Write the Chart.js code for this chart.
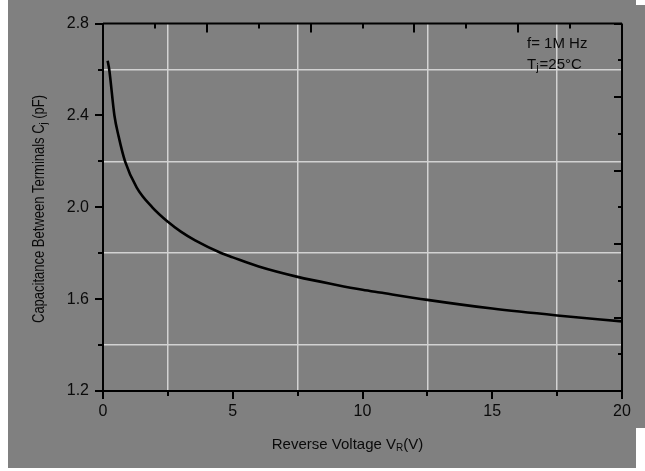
<!DOCTYPE html>
<html>
<head>
<meta charset="utf-8">
<script src="https://cdn.jsdelivr.net/npm/chart.js@4/dist/chart.umd.min.js"></script>
<style>
  html, body { margin: 0; padding: 0; background: #ffffff; }
  #wrap { width: 645px; height: 471px; }
</style>
</head>
<body>
<div id="wrap"><canvas id="capChart" width="645" height="471"></canvas></div>
<script>
// Reverse voltage (V) and capacitance (pF)
const reverseVoltage = [0.18, 0.24, 0.44, 0.6, 0.85, 1.3, 1.9, 2.5, 3.0, 3.55, 4.57, 5, 6, 7.5, 9, 10, 10.67, 12.5, 15, 17.5, 20];
const capacitance = [2.638, 2.60, 2.40, 2.31, 2.20, 2.086, 2.00, 1.937, 1.894, 1.856, 1.80, 1.782, 1.742, 1.697, 1.662, 1.641, 1.629, 1.597, 1.559, 1.529, 1.503];

// Axis ticks
const xTicks = [0, 5, 10, 15, 20];
const yTicks = [1.2, 1.6, 2.0, 2.4, 2.8];

const FONT = '"Liberation Sans", Arial, sans-serif';
const TEXT = '#0a0a0a';

// gray panel behind the chart (matches the scanned look)
const panelBg = {
    id: 'panelBg',
    beforeDraw(chart) {
        const c = chart.ctx;
        c.save();
        c.fillStyle = '#808080';
        c.fillRect(8, 0, 637, 468);
        c.fillStyle = '#ffffff';
        c.fillRect(636, 0, 9, 5);
        c.fillRect(636, 428, 9, 43);
        c.restore();
    }
};

// frame, tick marks on all four sides, axis titles and the note
const frameTicks = {
    id: 'frameTicks',
    afterDraw(chart) {
        const c = chart.ctx;
        const a = chart.chartArea;
        const x = chart.scales.x;
        const y = chart.scales.y;
        c.save();
        c.strokeStyle = '#000';
        c.lineWidth = 2;
        c.beginPath();
        c.moveTo(a.left, a.top); c.lineTo(a.right, a.top);
        c.moveTo(a.right, a.top); c.lineTo(a.right, a.bottom);
        // bottom ticks (outside)
        for (let v = 0; v <= 20.001; v += 2.5) {
            const px = Math.round(x.getPixelForValue(v));
            const len = (Math.round(v * 10) % 50 === 0) ? 8 : 5;
            c.moveTo(px, a.bottom); c.lineTo(px, a.bottom + len);
        }
        // top ticks (inside)
        for (let v = 0; v <= 20.001; v += 2) {
            const px = Math.round(x.getPixelForValue(v));
            const len = (v % 4 === 0) ? 9 : 5;
            c.moveTo(px, a.top); c.lineTo(px, a.top + len);
        }
        // left ticks (outside)
        for (let i = 0; i <= 8; i++) {
            const py = Math.round(y.getPixelForValue(1.2 + i * 0.2));
            const len = (i % 2 === 0) ? 8 : 5;
            c.moveTo(a.left, py); c.lineTo(a.left - len, py);
        }
        // right ticks (inside, finer division)
        for (let i = 0; i <= 10; i++) {
            const py = Math.round(y.getPixelForValue(1.2 + i * 0.16));
            const len = (i % 2 === 0) ? 8 : 4;
            c.moveTo(a.right, py); c.lineTo(a.right - len, py);
        }
        c.stroke();

        c.fillStyle = TEXT;
        c.textBaseline = 'alphabetic';

        // x title with subscript R
        const xt1 = 'Reverse Voltage V', xt2 = 'R', xt3 = '(V)';
        c.font = '15px ' + FONT;
        const w1 = c.measureText(xt1).width, w3 = c.measureText(xt3).width;
        c.font = '10px ' + FONT;
        const w2 = c.measureText(xt2).width;
        let tx = (a.left + a.right) / 2 - (w1 + w2 + w3) / 2 - 15;
        const ty = 449;
        c.font = '15px ' + FONT;
        c.fillText(xt1, tx, ty); tx += w1;
        c.font = '10px ' + FONT;
        c.fillText(xt2, tx, ty + 2); tx += w2;
        c.font = '15px ' + FONT;
        c.fillText(xt3, tx, ty);

        // y title, rotated and squeezed like the original
        const yt1 = 'Capacitance Between Terminals C', yt2 = 'j', yt3 = ' (pF)';
        c.font = '16px ' + FONT;
        const v1 = c.measureText(yt1).width, v3 = c.measureText(yt3).width;
        c.font = '11px ' + FONT;
        const v2 = c.measureText(yt2).width;
        const total = v1 + v2 + v3;
        const sx = 228 / total;
        c.translate(44, 209);
        c.rotate(-Math.PI / 2);
        c.scale(sx, 1);
        let yx = -total / 2;
        c.font = '16px ' + FONT;
        c.fillText(yt1, yx, 0); yx += v1;
        c.font = '11px ' + FONT;
        c.fillText(yt2, yx, 3); yx += v2;
        c.font = '16px ' + FONT;
        c.fillText(yt3, yx, 0);
        c.setTransform(1, 0, 0, 1, 0, 0);

        // test conditions note
        c.font = '15px ' + FONT;
        c.fillText('f= 1M Hz', 527, 48);
        c.fillText('T', 527, 69);
        const tw = c.measureText('T').width;
        c.font = '11px ' + FONT;
        c.fillText('j', 527 + tw, 71);
        const jw = c.measureText('j').width;
        c.font = '15px ' + FONT;
        c.fillText('=25°C', 527 + tw + jw + 1, 69);
        c.restore();
    }
};

const ctx = document.getElementById('capChart').getContext('2d');
const capChart = new Chart(ctx, {
    type: 'line',
    data: {
        datasets: [{
            data: reverseVoltage.map((v, i) => ({ x: v, y: capacitance[i] })),
            borderColor: '#000000',
            borderWidth: 2.6,
            pointRadius: 0,
            fill: false,
            cubicInterpolationMode: 'monotone'
        }]
    },
    options: {
        responsive: false,
        animation: false,
        devicePixelRatio: 1,
        layout: { padding: { left: 8, top: 16, right: 23, bottom: 0 } },
        plugins: { legend: { display: false }, tooltip: { enabled: false } },
        scales: {
            x: {
                type: 'linear',
                min: 0,
                max: 20,
                afterFit(scale) { scale.height = 80; },
                ticks: {
                    stepSize: 2.5,
                    autoSkip: false,
                    maxRotation: 0,
                    padding: 11,
                    color: TEXT,
                    font: { family: FONT, size: 16 },
                    callback: v => xTicks.includes(v) ? String(v) : ''
                },
                grid: {
                    drawTicks: false,
                    lineWidth: 1.5,
                    color: c => xTicks.includes(c.tick.value) ? 'rgba(0,0,0,0)' : '#d2d2d2'
                },
                border: { color: '#000', width: 2 }
            },
            y: {
                min: 1.2,
                max: 2.8,
                afterFit(scale) { scale.width = 95; },
                ticks: {
                    stepSize: 0.2,
                    autoSkip: false,
                    padding: 14,
                    color: TEXT,
                    font: { family: FONT, size: 16 },
                    callback: v => yTicks.some(t => Math.abs(t - v) < 1e-6) ? v.toFixed(1) : ''
                },
                grid: {
                    drawTicks: false,
                    lineWidth: 1.5,
                    color: c => yTicks.some(t => Math.abs(t - c.tick.value) < 1e-6) ? 'rgba(0,0,0,0)' : '#d2d2d2'
                },
                border: { color: '#000', width: 2 }
            }
        }
    },
    plugins: [panelBg, frameTicks]
});
</script>
</body>
</html>
